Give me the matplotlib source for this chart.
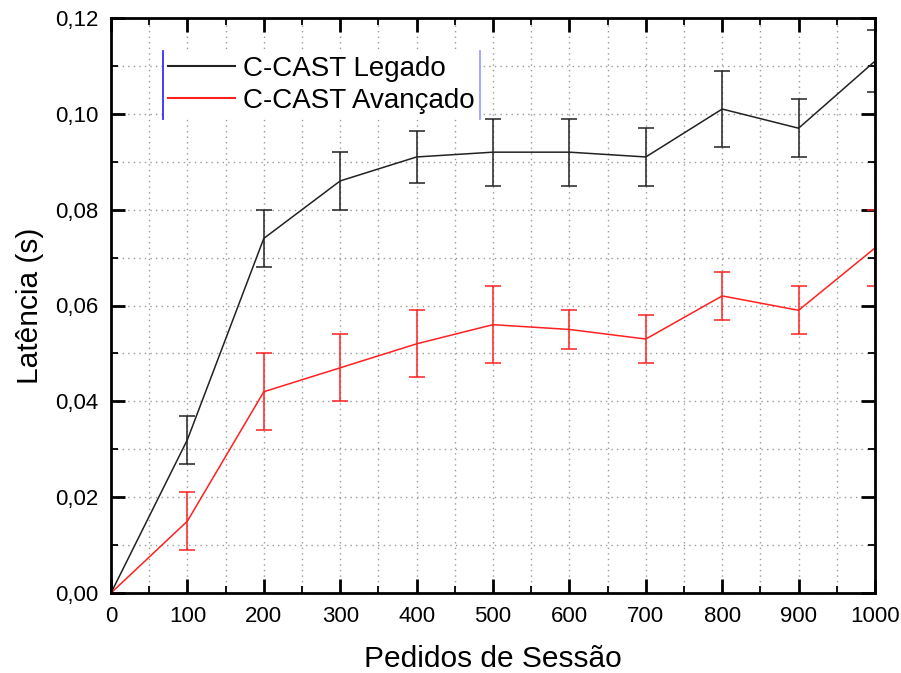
import numpy as np
import matplotlib.pyplot as plt
from matplotlib.lines import Line2D
from matplotlib.ticker import MultipleLocator, FuncFormatter

plt.rcParams['font.family'] = ['Liberation Sans', 'DejaVu Sans']

# data
pedidos = [0, 100, 200, 300, 400, 500, 600, 700, 800, 900, 1000]
legado = [0, 0.032, 0.074, 0.086, 0.091, 0.092, 0.092, 0.091, 0.101, 0.097, 0.111]
legado_err = [0, 0.005, 0.006, 0.006, 0.0055, 0.007, 0.007, 0.006, 0.008, 0.006, 0.0065]
avancado = [0, 0.015, 0.042, 0.047, 0.052, 0.056, 0.055, 0.053, 0.062, 0.059, 0.072]
avancado_err = [0, 0.006, 0.008, 0.007, 0.007, 0.008, 0.004, 0.005, 0.005, 0.005, 0.008]

preto = '#222222'
vermelho = '#ff2020'

fig = plt.figure(figsize=(9.01, 6.73), dpi=100)
ax = fig.add_axes([111/901, 80/673, (875-111)/901, (593-18)/673])

ax.errorbar(pedidos, legado, yerr=legado_err, color=preto, lw=1.1,
            elinewidth=1.1, capsize=6, capthick=1.1)
ax.errorbar(pedidos, avancado, yerr=avancado_err, color=vermelho, lw=1.1,
            elinewidth=1.1, capsize=6, capthick=1.1)

ax.set_xlim(0, 1000)
ax.set_ylim(0, 0.12)
ax.xaxis.set_major_locator(MultipleLocator(100))
ax.xaxis.set_minor_locator(MultipleLocator(50))
ax.yaxis.set_major_locator(MultipleLocator(0.02))
ax.yaxis.set_minor_locator(MultipleLocator(0.01))
ax.yaxis.set_major_formatter(FuncFormatter(lambda v, p: f'{v:.2f}'.replace('.', ',')))

ax.tick_params(which='both', direction='in', top=True, right=True, labelsize=16, pad=9)
ax.tick_params(which='major', length=10, width=2)
ax.tick_params(which='minor', length=5, width=1.3)
for s in ax.spines.values():
    s.set_linewidth(2)

ax.grid(which='both', color='#999999', linestyle=(0, (1, 3)), linewidth=1)
ax.set_axisbelow(True)

ax.set_xlabel('Pedidos de Sessão', fontsize=21.5, labelpad=13)
ax.set_ylabel('Latência (s)', fontsize=21.5, labelpad=8)

handles = [Line2D([], [], color=preto, lw=1.5), Line2D([], [], color=vermelho, lw=1.5)]
leg = ax.legend(handles, ['C-CAST Legado', 'C-CAST Avançado'], loc='upper left',
                bbox_to_anchor=(0.068, 0.943), frameon=True, fontsize=20,
                handlelength=2.4, handletextpad=0.3, borderpad=0.18, borderaxespad=0,
                labelspacing=0.22, fancybox=False)
leg.get_frame().set_edgecolor('none')
leg.get_frame().set_facecolor('white')
leg.get_frame().set_alpha(1)

# blue vertical bars at the legend edges
fig.canvas.draw()
bb = leg.get_window_extent().transformed(ax.transAxes.inverted())
ax.plot([bb.x0, bb.x0], [bb.y0, bb.y1], transform=ax.transAxes, color='#3030ff', lw=1.3, clip_on=False, zorder=10)
ax.plot([bb.x1, bb.x1], [bb.y0, bb.y1], transform=ax.transAxes, color='#a0a0ff', lw=1.3, clip_on=False, zorder=10)

fig.savefig('out.png', dpi=100)
